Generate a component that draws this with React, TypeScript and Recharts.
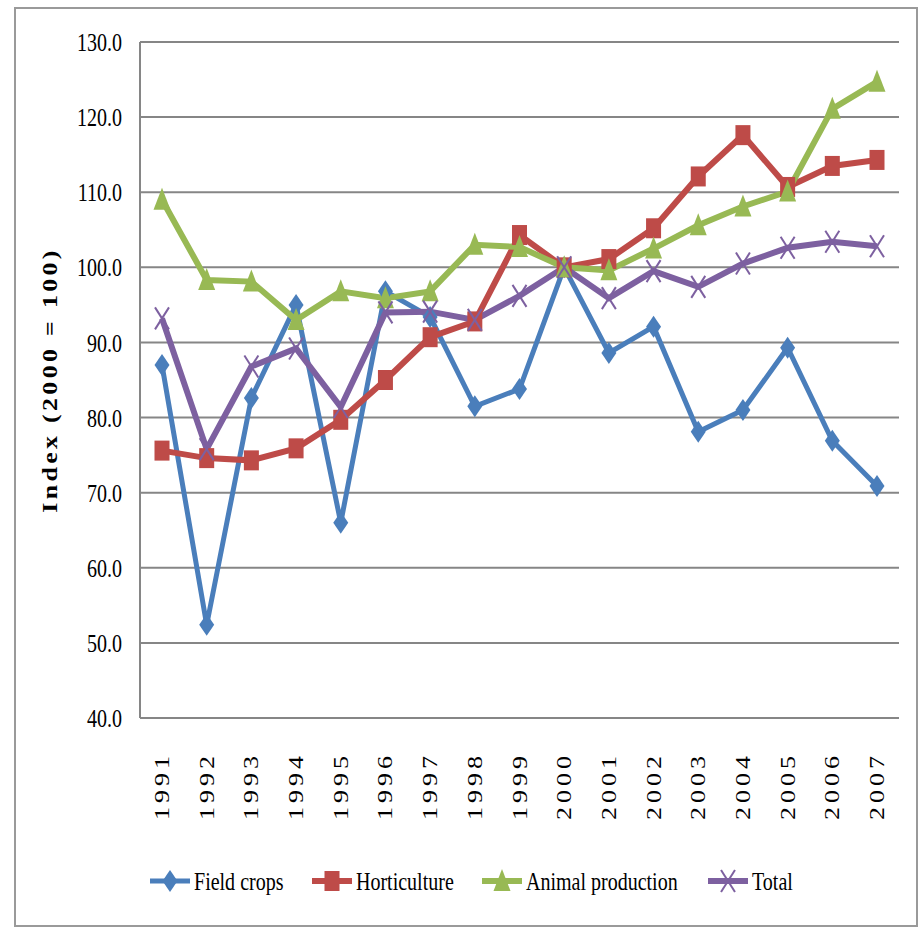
import React from 'react';
import { LineChart, Line, XAxis, YAxis, CartesianGrid } from 'recharts';

const years = ['1991', '1992', '1993', '1994', '1995', '1996', '1997', '1998', '1999', '2000', '2001', '2002', '2003', '2004', '2005', '2006', '2007'];
const fieldCrops = [87.0, 52.4, 82.6, 95.0, 66.0, 96.8, 93.4, 81.5, 83.8, 100.0, 88.6, 92.1, 78.1, 81.0, 89.3, 76.9, 70.9];
const horticulture = [75.6, 74.6, 74.3, 75.9, 79.7, 85.0, 90.7, 92.8, 104.3, 100.0, 101.1, 105.2, 112.1, 117.6, 110.7, 113.5, 114.3];
const animalProduction = [109.0, 98.3, 98.1, 93.0, 96.8, 95.9, 96.8, 103.0, 102.7, 100.0, 99.6, 102.5, 105.6, 108.1, 110.1, 121.1, 124.7];
const total = [93.2, 75.8, 86.8, 89.2, 81.4, 94.0, 94.1, 93.0, 96.2, 100.0, 95.9, 99.5, 97.4, 100.5, 102.6, 103.4, 102.8];
const yTicks = [40, 50, 60, 70, 80, 90, 100, 110, 120, 130];

const data = years.map((year, i) => ({
  year,
  fieldCrops: fieldCrops[i],
  horticulture: horticulture[i],
  animalProduction: animalProduction[i],
  total: total[i],
}));

const FONT = 'Liberation Serif, Times New Roman, serif';
const SQUEEZE = 0.77;
const GRID = '#868686';

const BLUE = '#4A7EBB';
const RED = '#BE4B48';
const GREEN = '#98B954';
const PURPLE = '#7D60A0';

type Shape = 'diamond' | 'square' | 'triangle' | 'cross';

const marker = (shape: Shape, color: string, cx: number, cy: number, key?: any) => {
  if (shape === 'diamond') {
    return <path key={key} d={`M${cx},${cy - 11} L${cx + 7.5},${cy} L${cx},${cy + 11} L${cx - 7.5},${cy} Z`} fill={color} />;
  }
  if (shape === 'square') {
    return <rect key={key} x={cx - 7.5} y={cy - 10} width={15} height={20} fill={color} />;
  }
  if (shape === 'triangle') {
    return <path key={key} d={`M${cx},${cy - 12} L${cx + 8.5},${cy + 10} L${cx - 8.5},${cy + 10} Z`} fill={color} />;
  }
  return (
    <g key={key} stroke={color} strokeWidth={2}>
      <line x1={cx - 7} y1={cy - 11} x2={cx + 7} y2={cy + 11} />
      <line x1={cx + 7} y1={cy - 11} x2={cx - 7} y2={cy + 11} />
    </g>
  );
};

const dotFor = (shape: Shape, color: string) => (props: any) => {
  const { cx, cy, index } = props;
  if (cx == null || cy == null) return <g key={`e-${index}`} />;
  return marker(shape, color, cx, cy, `${shape}-${index}`);
};

const YTick = (props: any) => {
  const { x, y, payload } = props;
  return (
    <text
      transform={`translate(${x},${y}) scale(${SQUEEZE},1)`}
      textAnchor="end"
      dy="0.35em"
      fontFamily={FONT}
      fontSize={26}
      fill="#000"
    >
      {Number(payload.value).toFixed(1)}
    </text>
  );
};

const XTick = (props: any) => {
  const { x, y, payload } = props;
  return (
    <text
      transform={`translate(${x},${y}) scale(${SQUEEZE},1) rotate(-90)`}
      textAnchor="end"
      dy="0.35em"
      fontFamily={FONT}
      fontSize={26}
      letterSpacing={4}
      fill="#000"
    >
      {payload.value}
    </text>
  );
};

const series = [
  { key: 'fieldCrops', name: 'Field crops', color: BLUE, shape: 'diamond' as Shape, width: 5 },
  { key: 'horticulture', name: 'Horticulture', color: RED, shape: 'square' as Shape, width: 6 },
  { key: 'animalProduction', name: 'Animal production', color: GREEN, shape: 'triangle' as Shape, width: 6 },
  { key: 'total', name: 'Total', color: PURPLE, shape: 'cross' as Shape, width: 6 },
];

// legend item left edges
const legendX = [150, 312, 482, 708];

const App = () => {
  return (
    <div style={{ position: 'absolute', left: 0, top: 0, width: 922, height: 927, background: '#fff' }}>
      <div
        style={{
          position: 'absolute',
          left: 14,
          top: 7,
          width: 900,
          height: 916,
          border: '2px solid #9a9a9a',
        }}
      />
      <div style={{ position: 'absolute', left: 0, top: 0 }}>
        <LineChart width={922} height={927} data={data} margin={{ top: 42, right: 23, left: 0, bottom: 0 }}>
          <CartesianGrid vertical={false} stroke={GRID} strokeWidth={2} />
          <XAxis
            dataKey="year"
            height={209}
            interval={0}
            padding={{ left: 22, right: 22 }}
            tickLine={false}
            tickMargin={28}
            axisLine={{ stroke: GRID, strokeWidth: 2 }}
            tick={<XTick />}
          />
          <YAxis
            width={140}
            domain={[40, 130]}
            ticks={yTicks}
            tickLine={false}
            tickMargin={12}
            axisLine={{ stroke: GRID, strokeWidth: 2 }}
            tick={<YTick />}
          />
          {series.map((s) => (
            <Line
              key={s.key}
              dataKey={s.key}
              name={s.name}
              stroke={s.color}
              strokeWidth={s.width}
              dot={dotFor(s.shape, s.color)}
              activeDot={false}
              isAnimationActive={false}
            />
          ))}
        </LineChart>
      </div>
      <svg width={922} height={927} style={{ position: 'absolute', left: 0, top: 0, pointerEvents: 'none' }}>
        <text
          transform={`translate(50,380) scale(${SQUEEZE},1) rotate(-90)`}
          textAnchor="middle"
          dy="0.35em"
          fontFamily={FONT}
          fontSize={26}
          fontWeight="bold"
          letterSpacing={3.3}
          fill="#000"
        >
          Index (2000 = 100)
        </text>
        {series.map((s, i) => (
          <g key={s.key}>
            <line x1={legendX[i]} y1={881} x2={legendX[i] + 40} y2={881} stroke={s.color} strokeWidth={s.width} />
            {marker(s.shape, s.color, legendX[i] + 20, 881)}
            <text
              transform={`translate(${legendX[i] + 44},881) scale(${SQUEEZE},1)`}
              dy="0.35em"
              fontFamily={FONT}
              fontSize={26}
              fill="#000"
            >
              {s.name}
            </text>
          </g>
        ))}
      </svg>
    </div>
  );
};

export default App;
